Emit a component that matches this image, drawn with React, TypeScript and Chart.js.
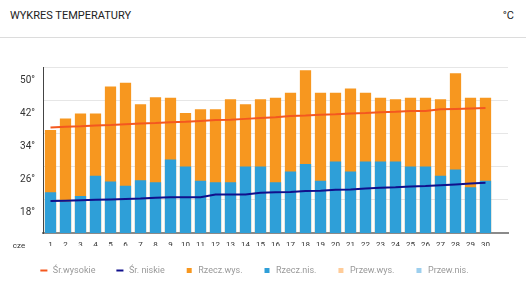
import React, { useEffect, useRef } from 'react';
import { Chart, registerables } from 'chart.js';

Chart.register(...registerables);

const TITLE = 'WYKRES TEMPERATURY';
const UNIT = '°C';
const MONTH = 'cze';

const dayLabels = ['1', '2', '3', '4', '5', '6', '7', '8', '9', '10', '11', '12', '13', '14', '15', '16', '17', '18', '19', '20', '21', '22', '23', '24', '25', '26', '27', '28', '29', '30', ''];

const srWysokie = [35.4, 35.6, 35.7, 35.9, 36.0, 36.2, 36.4, 36.5, 36.7, 36.8, 37.0, 37.2, 37.3, 37.5, 37.7, 37.9, 38.2, 38.3, 38.5, 38.6, 38.8, 38.9, 39.1, 39.2, 39.4, 39.4, 39.8, 39.9, 40.0, 40.1];
const srNiskie = [17.7, 17.8, 17.9, 18.0, 18.1, 18.2, 18.3, 18.5, 18.6, 18.6, 18.6, 19.3, 19.3, 19.3, 19.7, 19.8, 19.9, 20.1, 20.2, 20.4, 20.5, 20.7, 20.9, 21.0, 21.2, 21.3, 21.5, 21.7, 21.9, 22.1];
const rzeczWys = [34.8, 37.6, 38.8, 38.8, 45.3, 46.2, 41.0, 42.7, 42.6, 38.9, 39.8, 39.8, 42.2, 41.0, 42.2, 42.6, 43.8, 49.2, 43.8, 43.8, 44.8, 43.8, 42.6, 42.2, 42.6, 42.6, 42.2, 48.5, 42.6, 42.6];
const rzeczNis = [19.8, 17.6, 18.9, 23.8, 22.4, 21.4, 22.7, 22.2, 27.7, 26.0, 22.6, 22.2, 22.2, 26.0, 26.0, 22.2, 24.8, 26.6, 22.6, 27.2, 24.8, 27.2, 27.2, 27.2, 26.0, 26.0, 23.8, 25.3, 21.0, 22.6];
const przewWys: number[] = [];
const przewNis: number[] = [];

const Y_MIN = 10;
const Y_MAX = 50;
const Y_STEP = 8;

const C_LINE_HIGH = '#f4581f';
const C_LINE_LOW = '#10108c';
const C_BAR_HIGH = '#f7971f';
const C_BAR_LOW = '#2e9fd8';
const C_FC_HIGH = '#ffcc99';
const C_FC_LOW = '#9dcfee';

export default function App() {
  const ref = useRef<HTMLCanvasElement | null>(null);

  useEffect(() => {
    if (!ref.current) return;
    Chart.defaults.font.family = 'Roboto';
    const czePlugin = {
      id: 'czeLabel',
      afterDraw(chart: any) {
        const { ctx } = chart;
        const x = chart.scales.x;
        ctx.save();
        ctx.font = '8px Roboto';
        ctx.fillStyle = '#333';
        ctx.textAlign = 'center';
        ctx.textBaseline = 'middle';
        ctx.fillText(MONTH, 19, x.top + 13);
        ctx.restore();
      },
    };
    const chart = new Chart(ref.current, {
      type: 'bar',
      data: {
        labels: dayLabels,
        datasets: [
          { type: 'line', label: 'Śr.wysokie', data: srWysokie, borderColor: C_LINE_HIGH, backgroundColor: C_LINE_HIGH, borderWidth: 2, pointRadius: 0, pointStyle: 'line', tension: 0, order: 0 } as any,
          { type: 'line', label: 'Śr. niskie', data: srNiskie, borderColor: C_LINE_LOW, backgroundColor: C_LINE_LOW, borderWidth: 2, pointRadius: 0, pointStyle: 'line', tension: 0, order: 0 } as any,
          { type: 'bar', label: 'Rzecz.wys.', data: rzeczWys, backgroundColor: C_BAR_HIGH, grouped: false, pointStyle: 'rect', order: 2 } as any,
          { type: 'bar', label: 'Rzecz.nis.', data: rzeczNis, backgroundColor: C_BAR_LOW, grouped: false, pointStyle: 'rect', order: 1 } as any,
          { type: 'bar', label: 'Przew.wys.', data: przewWys, backgroundColor: C_FC_HIGH, grouped: false, pointStyle: 'rect', order: 3 } as any,
          { type: 'bar', label: 'Przew.nis.', data: przewNis, backgroundColor: C_FC_LOW, grouped: false, pointStyle: 'rect', order: 3 } as any,
        ],
      },
      options: {
        responsive: false,
        animation: false,
        datasets: { bar: { barPercentage: 0.75, categoryPercentage: 1 } } as any,
        layout: { padding: { top: 67, right: 18, bottom: 10, left: 0 } },
        scales: {
          x: {
            grid: { display: false, drawTicks: false },
            border: { display: true, color: '#8a8a8a', width: 2 },
            ticks: { color: '#333', font: { size: 8 }, padding: 7, maxRotation: 0, autoSkip: false },
            afterFit: (s: any) => { s.height = 13; },
          },
          y: {
            min: Y_MIN,
            max: Y_MAX,
            grid: { color: '#e6e6e6', drawTicks: false },
            border: { display: true, color: '#444', width: 1 },
            ticks: {
              stepSize: Y_STEP,
              labelOffset: 13,
              padding: 8,
              color: '#333',
              font: { size: 10 },
              callback: (v: any) => (v === Y_MIN ? '' : v + '°'),
            },
            afterFit: (s: any) => { s.width = 43; },
          },
        },
        plugins: {
          legend: {
            position: 'bottom',
            labels: {
              usePointStyle: true,
              boxWidth: 9,
              boxHeight: 5,
              padding: 20,
              color: '#999',
              font: { size: 9 },
              sort: (a: any, b: any) => a.datasetIndex - b.datasetIndex,
            },
          },
          tooltip: { enabled: false },
        },
      },
      plugins: [czePlugin],
    });
    return () => chart.destroy();
  }, []);

  return (
    <div style={{ position: 'absolute', left: 0, top: 0, width: 526, height: 295, background: '#fff', fontFamily: 'Roboto' }}>
      <div style={{ position: 'absolute', left: 10, top: 9, fontSize: 11, lineHeight: '14px', color: '#222' }}>{TITLE}</div>
      <div style={{ position: 'absolute', right: 12, top: 9, fontSize: 11, lineHeight: '14px', color: '#222' }}>{UNIT}</div>
      <div style={{ position: 'absolute', left: 0, top: 37, width: 526, height: 1, background: '#dcdcdc' }} />
      <canvas ref={ref} width={526} height={295} style={{ position: 'absolute', left: 0, top: 0 }} />
    </div>
  );
}
